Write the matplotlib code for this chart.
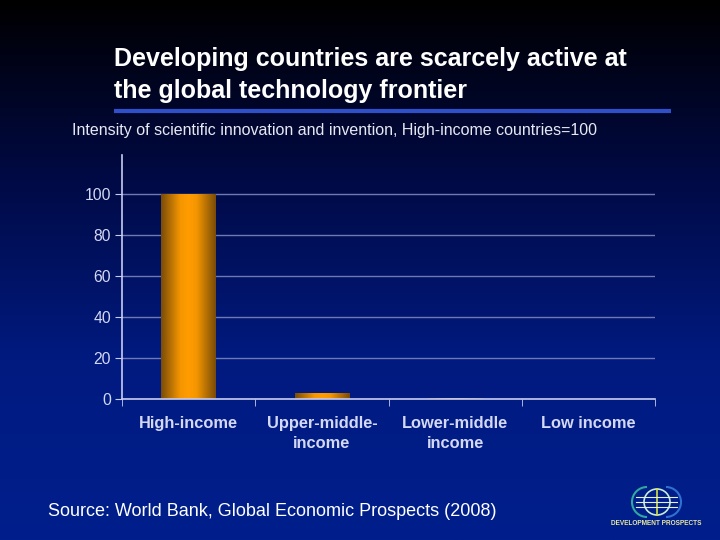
import numpy as np
import matplotlib.pyplot as plt
from matplotlib.colors import LinearSegmentedColormap
from matplotlib.patches import Circle, Arc

categories = ["High-income", "Upper-middle-\nincome", "Lower-middle\nincome", "Low income"]
values = [100, 3, 0.4, 0]
yticks = [0, 20, 40, 60, 80, 100]

plt.rcParams['font.family'] = ['Liberation Sans', 'DejaVu Sans']

fig = plt.figure(figsize=(7.2, 5.4), dpi=100)

# background gradient, black on top to blue at the bottom
bg_cmap = LinearSegmentedColormap.from_list("bg", ["#000000", "#000a45", "#001a80", "#001f8c"])
bg = fig.add_axes([0, 0, 1, 1], zorder=0)
bg.imshow(np.linspace(0, 1, 256).reshape(-1, 1), aspect="auto", cmap=bg_cmap)
bg.axis("off")

# chart
ax = fig.add_axes([122 / 720, 1 - 399 / 540, 533 / 720, 244 / 540], zorder=1)
ax.patch.set_alpha(0)
x = np.arange(len(categories))
bars = ax.bar(x, values, width=0.41, color="#ff9c00", zorder=2)

# orange cylinder look for the bars
bar_cmap = LinearSegmentedColormap.from_list(
    "bar", [(0, "#7a4c08"), (0.35, "#f59600"), (0.5, "#ff9c00"), (0.65, "#f59600"), (1, "#7a4c08")])
grad = np.linspace(0, 1, 128).reshape(1, -1)
for b in bars:
    if b.get_height() > 0:
        im = ax.imshow(grad, extent=[b.get_x(), b.get_x() + b.get_width(), 0, b.get_height()],
                       aspect="auto", cmap=bar_cmap, zorder=2.5)
        im.set_clip_path(b)

ax.set_xlim(-0.5, 3.5)
ax.set_ylim(0, 119)
ax.set_yticks(yticks)
ax.set_xticks(x)
ax.set_xticklabels(categories, fontsize=11.8, fontweight="bold", color="#d4d8f4", linespacing=1.45)
ax.set_xticks(np.arange(-0.5, 4), minor=True)
ax.tick_params(axis="x", which="major", length=0, pad=12)
ax.tick_params(axis="x", which="minor", length=5, color="#c8ccf0", direction="out")
ax.tick_params(axis="y", length=5, color="#c8ccf0", labelcolor="#d4d8f4", labelsize=11.3, pad=3)
ax.grid(axis="y", color="#7078b4", linewidth=1, zorder=1)
ax.set_axisbelow(True)
for s in ["top", "right"]:
    ax.spines[s].set_visible(False)
for s in ["left", "bottom"]:
    ax.spines[s].set_color("#c8ccf0")
    ax.spines[s].set_linewidth(1.2)

# slide text
fig.text(114 / 720, 1 - 59 / 540, "Developing countries are scarcely active at", fontsize=18,
         fontweight="bold", color="white", va="center", zorder=3)
fig.text(114 / 720, 1 - 91 / 540, "the global technology frontier", fontsize=18,
         fontweight="bold", color="white", va="center", zorder=3)
fig.text(72 / 720, 1 - 131 / 540, "Intensity of scientific innovation and invention, High-income countries=100",
         fontsize=11.5, color="#e8e8f4", va="center", zorder=3)
fig.text(48 / 720, 1 - 511 / 540, "Source: World Bank, Global Economic Prospects (2008)",
         fontsize=12.95, color="white", va="center", zorder=3)

# blue rule under the title
fig.add_artist(plt.Line2D([114 / 720, 671 / 720], [1 - 110.5 / 540] * 2, color="#2f50c8",
                          linewidth=3, solid_capstyle="butt"))

# logo
logo = fig.add_axes([600 / 720, 0, 120 / 720, 70 / 540], zorder=2)
logo.set_xlim(600, 720)
logo.set_ylim(540, 470)
logo.set_aspect("equal")
logo.axis("off")
logo.add_patch(Circle((657, 502), 13, fill=False, ec="#c8ecd0", lw=1.2))
logo.add_patch(Arc((647, 502), 30, 30, theta1=90, theta2=270, ec="#30a8a0", lw=1.5))
logo.add_patch(Arc((666, 502), 30, 30, theta1=-90, theta2=90, ec="#3070d0", lw=1.5))
logo.plot([657, 657], [489, 515], color="#d8e040", lw=1.2)
for yy in [497, 502, 507]:
    logo.plot([636, 677], [yy, yy], color="#e0f0e8", lw=0.8)
logo.text(656.5, 523.5, "DEVELOPMENT PROSPECTS", fontsize=4.7, fontweight="bold", color="#e8e8a0",
          ha="center", va="center")

fig.savefig("out.png", dpi=100)
